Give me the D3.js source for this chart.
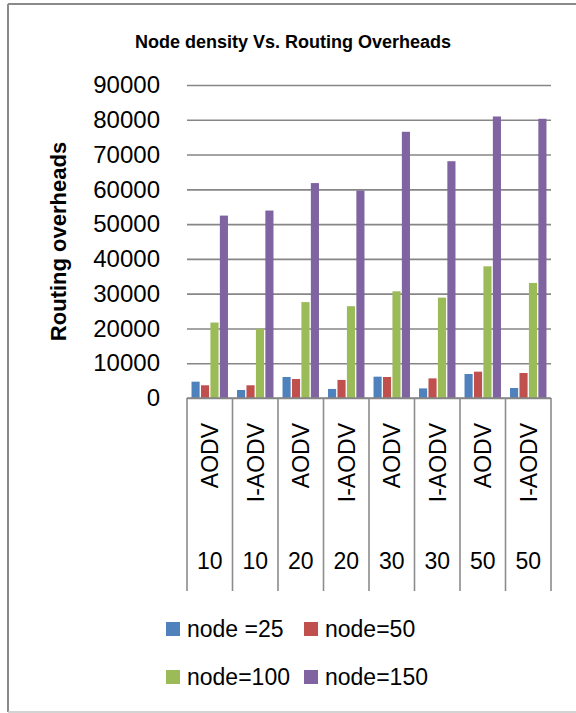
<!DOCTYPE html>
<html>
<head>
<meta charset="utf-8">
<script src="https://cdn.jsdelivr.net/npm/d3@7"></script>
<style>
  html, body { margin: 0; padding: 0; background: #fff; }
  svg { display: block; font-family: "Liberation Sans", Arial, sans-serif; }
</style>
</head>
<body>
<svg id="chart" width="576" height="713"></svg>
<script>
// Category axis: protocol (inner level) and node-density group (outer level)
const protocols = ["AODV", "I-AODV", "AODV", "I-AODV", "AODV", "I-AODV", "AODV", "I-AODV"];
const densities = ["10", "10", "20", "20", "30", "30", "50", "50"];

// Series
const seriesNames = ["node =25", "node=50", "node=100", "node=150"];
const node25  = [4700, 2300, 6050, 2600, 6130, 2760, 6900, 2880];
const node50  = [3660, 3660, 5470, 5200, 6040, 5640, 7570, 7190];
const node100 = [21700, 19900, 27580, 26400, 30680, 28860, 37870, 33090];
const node150 = [52450, 53900, 61800, 59650, 76550, 68090, 80950, 80290];
const seriesColors = ["#4F81BD", "#C0504D", "#9BBB59", "#8064A2"];

// Value axis ticks
const yTicks = [0, 10000, 20000, 30000, 40000, 50000, 60000, 70000, 80000, 90000];

const seriesValues = [node25, node50, node100, node150];
const rows = protocols.map((p, i) => ({
  key: i,
  protocol: p,
  density: densities[i],
  values: seriesValues.map((s, j) => ({ series: j, value: s[i] }))
}));

const svg = d3.select("#chart");

// Outer frame
svg.append("line").attr("x1", 8).attr("x2", 576).attr("y1", 4).attr("y2", 4)
  .attr("stroke", "#8a8a8a").attr("stroke-width", 2);
svg.append("line").attr("x1", 8).attr("x2", 8).attr("y1", 4).attr("y2", 712)
  .attr("stroke", "#8a8a8a").attr("stroke-width", 2);
svg.append("line").attr("x1", 8).attr("x2", 576).attr("y1", 712).attr("y2", 712)
  .attr("stroke", "#c4c4c4").attr("stroke-width", 1.5);

// Plot area
const plot = { left: 187, right: 551, top: 85, bottom: 398 };

const x = d3.scaleBand().domain(d3.range(protocols.length))
  .range([plot.left, plot.right]).paddingInner(0).paddingOuter(0);
const xInner = d3.scaleBand().domain(d3.range(seriesNames.length))
  .range([3.2, x.bandwidth() - 3.2]).padding(0.14);
const y = d3.scaleLinear().domain([0, 90000]).range([plot.bottom, plot.top]);

// Title
svg.append("text")
  .attr("x", 293).attr("y", 47.5)
  .attr("text-anchor", "middle")
  .attr("font-size", 18).attr("font-weight", "bold").attr("fill", "#000")
  .text("Node density Vs. Routing Overheads");

// Gridlines and value labels
const yAxis = d3.axisLeft(y).tickValues(yTicks).tickSize(-(plot.right - plot.left))
  .tickPadding(27).tickFormat(d3.format("d"));
const gy = svg.append("g").attr("transform", `translate(${plot.left},0)`).call(yAxis);
gy.select(".domain").remove();
gy.selectAll(".tick line").attr("stroke", "#868686").attr("stroke-width", 1.6);
gy.selectAll(".tick text")
  .attr("font-size", 24).attr("fill", "#000")
  .attr("font-family", "\"Liberation Sans\", Arial, sans-serif");

// Value axis title
svg.append("text")
  .attr("transform", "translate(66,241.5) rotate(-90)")
  .attr("text-anchor", "middle")
  .attr("font-size", 22).attr("font-weight", "bold").attr("fill", "#000")
  .text("Routing overheads");

// Bars
const groups = svg.append("g").selectAll("g").data(rows).join("g")
  .attr("transform", d => `translate(${x(d.key)},0)`);
groups.selectAll("rect").data(d => d.values).join("rect")
  .attr("x", d => xInner(d.series))
  .attr("width", xInner.bandwidth())
  .attr("y", d => y(d.value))
  .attr("height", d => y(0) - y(d.value))
  .attr("fill", d => seriesColors[d.series]);

// Category axis: baseline, dividers and two label levels
const axisBottom = 591;
svg.append("line").attr("x1", plot.left).attr("x2", plot.right)
  .attr("y1", plot.bottom).attr("y2", plot.bottom)
  .attr("stroke", "#868686").attr("stroke-width", 1.6);

const dividers = d3.range(protocols.length + 1).map(i =>
  i < protocols.length ? x(i) : x(protocols.length - 1) + x.bandwidth());
svg.append("g").selectAll("line").data(dividers).join("line")
  .attr("x1", d => d).attr("x2", d => d)
  .attr("y1", plot.bottom).attr("y2", axisBottom)
  .attr("stroke", "#8c8c8c").attr("stroke-width", 1.6);

svg.append("g").selectAll("text").data(rows).join("text")
  .attr("transform", d => `translate(${x(d.key) + x.bandwidth() / 2 + 8.5},423) rotate(-90)`)
  .attr("text-anchor", "end")
  .attr("font-size", 23).attr("fill", "#000")
  .text(d => d.protocol);

svg.append("g").selectAll("text").data(rows).join("text")
  .attr("x", d => x(d.key) + x.bandwidth() / 2)
  .attr("y", 569)
  .attr("text-anchor", "middle")
  .attr("font-size", 23).attr("fill", "#000")
  .text(d => d.density);

// Legend (two rows)
const legendPos = [
  { x: 166, y: 622 }, { x: 304, y: 622 },
  { x: 166, y: 670 }, { x: 304, y: 670 }
];
const legend = svg.append("g").selectAll("g").data(seriesNames).join("g")
  .attr("transform", (d, i) => `translate(${legendPos[i].x},${legendPos[i].y})`);
legend.append("rect").attr("width", 14).attr("height", 14)
  .attr("fill", (d, i) => seriesColors[i]);
legend.append("text").attr("x", 21).attr("y", 14.5)
  .attr("font-size", 23).attr("fill", "#000")
  .text(d => d);
</script>
</body>
</html>
